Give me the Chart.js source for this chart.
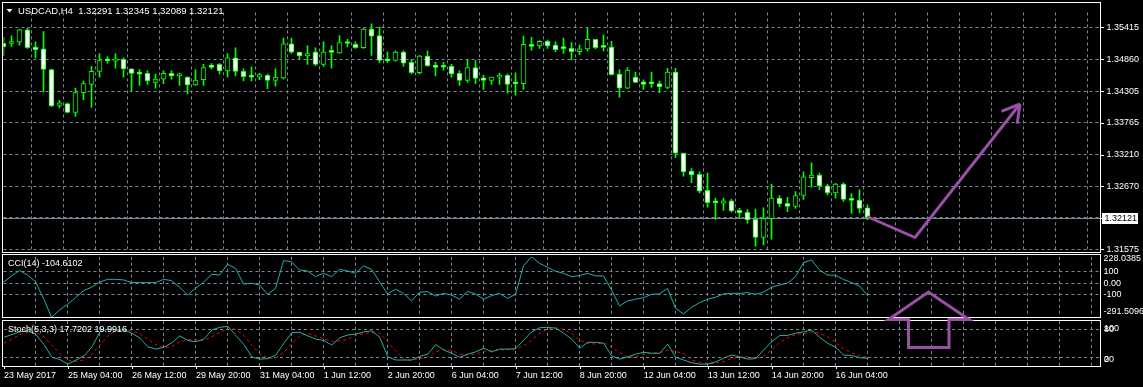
<!DOCTYPE html>
<html>
<head>
<meta charset="utf-8">
<script src="https://cdn.jsdelivr.net/npm/chart.js@4.4.1/dist/chart.umd.min.js"></script>
<style>
  html, body { margin: 0; padding: 0; background: #000; }
  #wrap { position: relative; width: 1143px; height: 387px; background: #000; overflow: hidden; }
  canvas { position: absolute; left: 0; }
</style>
</head>
<body>
<div id="wrap">
  <canvas id="cciChart" style="top:254px" width="1143" height="65"></canvas>
  <canvas id="stochChart" style="top:319px" width="1143" height="68"></canvas>
  <canvas id="mainChart" style="top:0px" width="1143" height="387"></canvas>
</div>
<script>
// USDCAD H4 candles
const open = [
  1.35137, 1.35132, 1.35159, 1.35370, 1.35071, 1.35038, 1.34683, 1.34062, 1.34095, 1.33940,
  1.34284, 1.34427, 1.34650, 1.34838, 1.34826, 1.34860, 1.34693, 1.34605, 1.34617, 1.34461,
  1.34517, 1.34617, 1.34572, 1.34550, 1.34417, 1.34506, 1.34760, 1.34772, 1.34660, 1.34883,
  1.34650, 1.34584, 1.34550, 1.34584, 1.34494, 1.34539, 1.35126, 1.34983, 1.34916, 1.34983,
  1.34772, 1.34983, 1.34971, 1.35137, 1.35116, 1.35059, 1.35382, 1.35270, 1.34838, 1.34838,
  1.34983, 1.34805, 1.34627, 1.34916, 1.34760, 1.34727, 1.34738, 1.34617, 1.34494, 1.34717,
  1.34539, 1.34494, 1.34550, 1.34584, 1.34439, 1.34439, 1.35116, 1.35092, 1.35170, 1.35104,
  1.35049, 1.35049, 1.34993, 1.35038, 1.35204, 1.35071, 1.35071, 1.34605, 1.34361, 1.34550,
  1.34472, 1.34439, 1.34439, 1.34373, 1.34639, 1.33237, 1.32926, 1.32872, 1.32594, 1.32383,
  1.32373, 1.32416, 1.32250, 1.32217, 1.32095, 1.31784, 1.32107, 1.32461, 1.32373, 1.32316,
  1.32506, 1.32815, 1.32860, 1.32672, 1.32549, 1.32705, 1.32428, 1.32428, 1.32291
];
const high = [
  1.35237, 1.35265, 1.35378, 1.35392, 1.35159, 1.35337, 1.34688, 1.34151, 1.34107, 1.34361,
  1.34484, 1.34738, 1.34959, 1.34905, 1.34959, 1.34883, 1.34693, 1.34683, 1.34660, 1.34605,
  1.34660, 1.34660, 1.34622, 1.34555, 1.34683, 1.34772, 1.34783, 1.34783, 1.34959, 1.35059,
  1.34693, 1.34727, 1.34617, 1.34605, 1.34693, 1.35225, 1.35225, 1.34983, 1.35092, 1.35059,
  1.35159, 1.35092, 1.35270, 1.35204, 1.35159, 1.35392, 1.35470, 1.35415, 1.34983, 1.35004,
  1.35004, 1.34860, 1.34926, 1.35004, 1.34805, 1.34805, 1.34772, 1.34660, 1.34860, 1.34838,
  1.34584, 1.34550, 1.34617, 1.34605, 1.34627, 1.35259, 1.35237, 1.35182, 1.35192, 1.35159,
  1.35225, 1.35149, 1.35104, 1.35392, 1.35204, 1.35282, 1.35170, 1.34683, 1.34717, 1.34639,
  1.34506, 1.34639, 1.34484, 1.34705, 1.34705, 1.33237, 1.32971, 1.32915, 1.32893, 1.32461,
  1.32461, 1.32439, 1.32283, 1.32261, 1.32273, 1.32295, 1.32705, 1.32506, 1.32473, 1.32572,
  1.32915, 1.33071, 1.32893, 1.32705, 1.32715, 1.32727, 1.32539, 1.32606, 1.32345
];
const low = [
  1.34926, 1.35082, 1.35104, 1.35049, 1.34883, 1.34294, 1.34040, 1.34019, 1.33932, 1.33874,
  1.34161, 1.34028, 1.34550, 1.34793, 1.34705, 1.34550, 1.34318, 1.34406, 1.34427, 1.34361,
  1.34439, 1.34517, 1.34406, 1.34261, 1.34406, 1.34406, 1.34693, 1.34605, 1.34550, 1.34572,
  1.34484, 1.34484, 1.34506, 1.34351, 1.34394, 1.34517, 1.34959, 1.34860, 1.34772, 1.34750,
  1.34738, 1.34705, 1.34959, 1.35071, 1.35049, 1.35049, 1.34926, 1.34805, 1.34805, 1.34826,
  1.34738, 1.34605, 1.34605, 1.34738, 1.34572, 1.34672, 1.34550, 1.34406, 1.34461, 1.34439,
  1.34339, 1.34427, 1.34427, 1.34273, 1.34240, 1.34339, 1.35016, 1.35049, 1.35049, 1.34993,
  1.34959, 1.34850, 1.34938, 1.35004, 1.35038, 1.35004, 1.34584, 1.34206, 1.34351, 1.34451,
  1.34339, 1.34373, 1.34284, 1.34351, 1.33159, 1.32838, 1.32727, 1.32549, 1.32306, 1.32095,
  1.32250, 1.32217, 1.32117, 1.32029, 1.31630, 1.31651, 1.31751, 1.32316, 1.32228, 1.32283,
  1.32439, 1.32649, 1.32606, 1.32516, 1.32461, 1.32406, 1.32195, 1.32207, 1.32089
];
const close = [
  1.35071, 1.35166, 1.35370, 1.35059, 1.35026, 1.34683, 1.34052, 1.34107, 1.33940, 1.34284,
  1.34439, 1.34650, 1.34838, 1.34833, 1.34866, 1.34693, 1.34617, 1.34603, 1.34484, 1.34517,
  1.34617, 1.34572, 1.34580, 1.34417, 1.34501, 1.34717, 1.34717, 1.34660, 1.34883, 1.34650,
  1.34560, 1.34550, 1.34594, 1.34494, 1.34550, 1.35126, 1.34983, 1.34916, 1.34959, 1.34772,
  1.34983, 1.34978, 1.35149, 1.35132, 1.35059, 1.35382, 1.35259, 1.34838, 1.34833, 1.34983,
  1.34793, 1.34627, 1.34916, 1.34750, 1.34717, 1.34722, 1.34605, 1.34494, 1.34717, 1.34527,
  1.34494, 1.34550, 1.34584, 1.34427, 1.34434, 1.35116, 1.35082, 1.35170, 1.35092, 1.35026,
  1.35044, 1.34993, 1.35038, 1.35204, 1.35059, 1.35066, 1.34594, 1.34361, 1.34672, 1.34461,
  1.34427, 1.34434, 1.34384, 1.34639, 1.33237, 1.32915, 1.32860, 1.32582, 1.32383, 1.32378,
  1.32416, 1.32240, 1.32207, 1.32084, 1.31784, 1.32107, 1.32461, 1.32361, 1.32316, 1.32506,
  1.32827, 1.32860, 1.32672, 1.32549, 1.32705, 1.32439, 1.32423, 1.32283, 1.32121
];

// CCI(14)
const cci = [
  9, 63, 109, 71, 14, -129, -291.5, -229, -180, -123,
  -63, -34, 9, 34, 34, 29, 6, 6, 6, 6,
  34, 23, -34, -100, -43, 9, 77, 71, 163, 129,
  -6, 0, -14, -94, -43, 194, 186, 114, 106, 57,
  86, 57, 120, 106, 86, 149, 120, 14, -91, -51,
  -86, -151, -77, -71, -109, -86, -100, -137, -69, -91,
  -137, -106, -86, -129, -94, 149, 228, 171, 137, 103,
  86, 57, 66, 86, 63, 63, -57, -194, -151, -137,
  -123, -94, -91, -43, -214, -263, -206, -166, -137, -120,
  -91, -86, -86, -80, -94, -77, -34, -14, 0, 57,
  177, 200, 114, 71, 69, 34, 6, -23, -104.6102
];

// Stochastic(5,3,3) main and signal
const stochMain = [
  64, 70, 76, 78, 70, 48, 20, 15, 5, 14,
  23, 43, 76, 82, 80, 80, 73, 62, 43, 38,
  42, 52, 67, 57, 54, 60, 80, 86, 88, 68,
  48, 21, 16, 17, 25, 51, 74, 75, 67, 60,
  57, 47, 63, 69, 71, 76, 78, 64, 21, 14,
  14, 14, 22, 27, 48, 36, 29, 20, 27, 32,
  40, 32, 38, 38, 39, 58, 76, 85, 86, 84,
  73, 60, 40, 53, 53, 51, 23, 16, 21, 27,
  31, 29, 29, 49, 20, 14, 8, 5, 5, 10,
  18, 25, 21, 16, 17, 36, 54, 68, 68, 73,
  76, 80, 64, 51, 42, 25, 24, 19, 17.7202
];
const stochSignal = [
  51, 60, 70, 75, 75, 65, 46, 28, 13, 11,
  14, 27, 47, 67, 79, 81, 78, 72, 59, 48,
  41, 44, 54, 59, 59, 57, 65, 75, 85, 81,
  68, 46, 28, 18, 19, 31, 50, 67, 72, 67,
  61, 55, 56, 60, 68, 72, 75, 73, 54, 33,
  16, 14, 17, 21, 32, 37, 35, 27, 25, 27,
  33, 35, 36, 37, 38, 45, 58, 73, 82, 85,
  81, 72, 57, 51, 49, 52, 42, 30, 20, 21,
  26, 29, 30, 36, 33, 28, 14, 9, 6, 7,
  11, 17, 21, 21, 18, 23, 36, 53, 63, 70,
  72, 76, 73, 65, 52, 39, 30, 23, 19.9916
];

const dateLabels = ['23 May 2017', '25 May 04:00', '26 May 12:00', '29 May 20:00', '31 May 04:00',
  '1 Jun 12:00', '2 Jun 20:00', '6 Jun 04:00', '7 Jun 12:00', '8 Jun 20:00',
  '12 Jun 04:00', '13 Jun 12:00', '14 Jun 20:00', '16 Jun 04:00'];
const priceTicks = [1.35415, 1.34860, 1.34305, 1.33765, 1.33210, 1.32670, 1.32125, 1.31575];
const priceTickLabels = ['1.35415', '1.34860', '1.34305', '1.33765', '1.33210', '1.32670', '', '1.31575'];
const cciTicks = [228.0385, 100, 0, -100, -291.5096];
const cciTickLabels = ['228.0385', '100', '0.00', '-100', '-291.5096'];
const stochTicks = [100, 80, 20, 0];
const stochTickLabels = ['100', '80', '20', '0'];

const SLOTS = 138;          // bars on screen incl. right shift
const LABEL_EVERY = 8;
const BID = 1.32121;
const PRICE_MAX = 1.356693;
const PRICE_MIN = 1.315301;

const GRID = '#778899';
const LIME = '#00ff00';
const PURPLE = '#9b4fa6';
const TEAL = '#20b2aa';
const FONT_FAMILY = "'Liberation Sans', Arial, sans-serif";
const FONT_SIZE = 9;
const FONT_CSS = FONT_SIZE + 'px ' + FONT_FAMILY;
const AXIS_W = 43.5;

const slots = Array.from({ length: SLOTS }, (_, i) => i);
const bodies = open.map((o, i) => [Math.min(o, close[i]), Math.max(o, close[i])]);
const wicks = low.map((l, i) => [l, high[i]]);
const bodyFill = open.map((o, i) => (close[i] < o ? '#ffffff' : '#000000'));

function xGrid(showLabels) {
  return {
    type: 'category',
    offset: false,
    grid: {
      color: c => (c.index > 0 && c.index % 4 === 0 ? GRID : 'rgba(0,0,0,0)'),
      drawTicks: false
    },
    border: { display: false, dash: [3, 3] },
    ticks: showLabels ? {
      autoSkip: false, maxRotation: 0, minRotation: 0, align: 'start', padding: 4,
      color: '#ffffff', font: { family: FONT_FAMILY, size: FONT_SIZE },
      callback: (v, i) => (i % LABEL_EVERY === 0 && i / LABEL_EVERY < dateLabels.length) ? dateLabels[i / LABEL_EVERY] : ''
    } : { display: false },
    afterFit: s => { s.height = showLabels ? 20.6 : 0; }
  };
}

function yRight(min, max, tickValues, showLabels, labels) {
  return {
    position: 'right',
    min: min, max: max,
    afterBuildTicks: s => { s.ticks = tickValues.map(v => ({ value: v })); },
    afterFit: s => { s.width = AXIS_W; },
    grid: { color: GRID, drawTicks: false },
    border: { display: false, dash: [3, 3] },
    ticks: showLabels ? {
      color: '#ffffff', padding: 7, font: { family: FONT_FAMILY, size: FONT_SIZE },
      callback: (v, i) => labels[i]
    } : { display: false }
  };
}

const common = {
  responsive: false,
  animation: false,
  events: [],
  plugins: { legend: { display: false }, tooltip: { enabled: false } }
};

function drawRightLabels(ctx, scale, values, labels, x, shifts) {
  ctx.font = FONT_CSS;
  ctx.fillStyle = '#ffffff';
  ctx.textAlign = 'left';
  ctx.textBaseline = 'middle';
  values.forEach((v, i) => {
    ctx.fillText(labels[i], x, scale.getPixelForValue(v) + shifts[i]);
  });
}

// ---------- main price panel ----------
const mainPlugin = {
  id: 'mainDecor',
  beforeDatasetsDraw(chart) {
    const { ctx, scales: { y } } = chart;
    const py = Math.round(y.getPixelForValue(BID)) + 0.5;
    ctx.save();
    ctx.strokeStyle = GRID;
    ctx.lineWidth = 1;
    ctx.beginPath();
    ctx.moveTo(2.5, py);
    ctx.lineTo(1100.5, py);
    ctx.stroke();
    ctx.restore();
  },
  afterDraw(chart) {
    const { ctx, scales: { y } } = chart;
    ctx.save();
    ctx.strokeStyle = '#ffffff';
    ctx.lineWidth = 1;
    ctx.strokeRect(2.5, 2.5, 1098, 250);
    ctx.strokeRect(2.5, 254.5, 1098, 63);
    ctx.strokeRect(2.5, 320.5, 1098, 46);

    ctx.beginPath();
    priceTicks.forEach(v => {
      const py = Math.round(y.getPixelForValue(v)) + 0.5;
      ctx.moveTo(1101, py);
      ctx.lineTo(1104, py);
    });
    ctx.stroke();

    // header
    const last = open.length - 1;
    ctx.fillStyle = '#ffffff';
    ctx.beginPath();
    ctx.moveTo(6.5, 9);
    ctx.lineTo(12.5, 9);
    ctx.lineTo(9.5, 12.5);
    ctx.closePath();
    ctx.fill();
    ctx.font = '9.5px ' + FONT_FAMILY;
    ctx.textAlign = 'left';
    ctx.textBaseline = 'middle';
    ctx.fillText('USDCAD,H4  ' + [open[last], high[last], low[last], close[last]].map(v => v.toFixed(5)).join(' '), 18, 11);

    // bid price box
    ctx.font = FONT_CSS;
    const by = y.getPixelForValue(BID);
    ctx.fillRect(1102, Math.round(by) - 5, 36, 11);
    ctx.fillStyle = '#000000';
    ctx.fillText(BID.toFixed(5), 1104.5, by + 0.5);

    // hand drawn arrows
    ctx.strokeStyle = PURPLE;
    ctx.lineWidth = 3;
    ctx.lineJoin = 'miter';
    const trend = [[867, 216.5], [915, 237.5], [1020, 104]];
    ctx.beginPath();
    ctx.moveTo(trend[0][0], trend[0][1]);
    trend.slice(1).forEach(p => ctx.lineTo(p[0], p[1]));
    ctx.stroke();
    const tip = trend[2], prev = trend[1];
    const ang = Math.atan2(prev[1] - tip[1], prev[0] - tip[0]);
    ctx.beginPath();
    [ang + Math.PI / 6, ang - Math.PI / 6].forEach(a => {
      ctx.moveTo(tip[0], tip[1]);
      ctx.lineTo(tip[0] + 20 * Math.cos(a), tip[1] + 20 * Math.sin(a));
    });
    ctx.stroke();

    const upArrow = [[888.5, 319.5], [928.5, 292], [969, 319.5], [949, 319.5], [949, 347.5], [908.5, 347.5], [908.5, 319.5]];
    ctx.beginPath();
    upArrow.forEach((p, i) => (i ? ctx.lineTo(p[0], p[1]) : ctx.moveTo(p[0], p[1])));
    ctx.closePath();
    ctx.stroke();
    ctx.restore();
  }
};

new Chart(document.getElementById('mainChart'), {
  type: 'bar',
  data: {
    labels: slots,
    datasets: [
      {
        data: bodies,
        backgroundColor: bodyFill,
        borderColor: LIME,
        borderWidth: 1,
        borderSkipped: false,
        barThickness: 5,
        minBarLength: 2,
        grouped: false
      },
      {
        data: wicks,
        backgroundColor: LIME,
        borderWidth: 0,
        barThickness: 1,
        grouped: false
      }
    ]
  },
  options: Object.assign({}, common, {
    layout: { padding: { left: 3.5, top: 3, right: 0, bottom: 135 } },
    scales: {
      x: xGrid(false),
      y: yRight(PRICE_MIN, PRICE_MAX, priceTicks, true, priceTickLabels)
    }
  }),
  plugins: [mainPlugin]
});

// ---------- CCI panel ----------
new Chart(document.getElementById('cciChart'), {
  type: 'line',
  data: {
    labels: slots,
    datasets: [{ data: cci, borderColor: TEAL, borderWidth: 1, pointRadius: 0, tension: 0 }]
  },
  options: Object.assign({}, common, {
    layout: { padding: { left: 3.5, top: 2.7, right: 0, bottom: 1.7 } },
    scales: {
      x: xGrid(false),
      y: yRight(cciTicks[4], cciTicks[0], cciTicks.slice(1, 4), false)
    }
  }),
  plugins: [{
    id: 'cciDecor',
    afterDraw(chart) {
      const { ctx, scales: { y } } = chart;
      ctx.save();
      drawRightLabels(ctx, y, cciTicks, cciTickLabels, 1103.5, [2, 0, 0, 0, -6]);
      ctx.fillText('CCI(14) ' + cci[cci.length - 1].toFixed(4), 8, 9.7);
      ctx.restore();
    }
  }]
});

// ---------- Stochastic panel ----------
new Chart(document.getElementById('stochChart'), {
  type: 'line',
  data: {
    labels: slots,
    datasets: [
      { data: stochMain, borderColor: TEAL, borderWidth: 1, pointRadius: 0, tension: 0 },
      { data: stochSignal, borderColor: '#ff0000', borderWidth: 1, borderDash: [3, 3], pointRadius: 0, tension: 0 }
    ]
  },
  options: Object.assign({}, common, {
    layout: { padding: { left: 3.5, top: 1.9, right: 0, bottom: 0 } },
    scales: {
      x: xGrid(true),
      y: yRight(0, 100, [80, 20], false)
    }
  }),
  plugins: [{
    id: 'stochDecor',
    afterDraw(chart) {
      const { ctx, scales: { x, y } } = chart;
      ctx.save();
      drawRightLabels(ctx, y, stochTicks, stochTickLabels, 1104, [7.5, 0, 2, -7]);
      ctx.fillText('Stoch(5,3,3) ' + stochMain[stochMain.length - 1].toFixed(4) + ' ' + stochSignal[stochSignal.length - 1].toFixed(4), 8, 11);
      ctx.strokeStyle = '#ffffff';
      ctx.lineWidth = 1;
      ctx.beginPath();
      dateLabels.forEach((d, k) => {
        const px = Math.round(x.getPixelForValue(k * LABEL_EVERY)) + 0.5;
        ctx.moveTo(px, 47.5);
        ctx.lineTo(px, 50);
      });
      ctx.stroke();
      ctx.restore();
    }
  }]
});
</script>
</body>
</html>
